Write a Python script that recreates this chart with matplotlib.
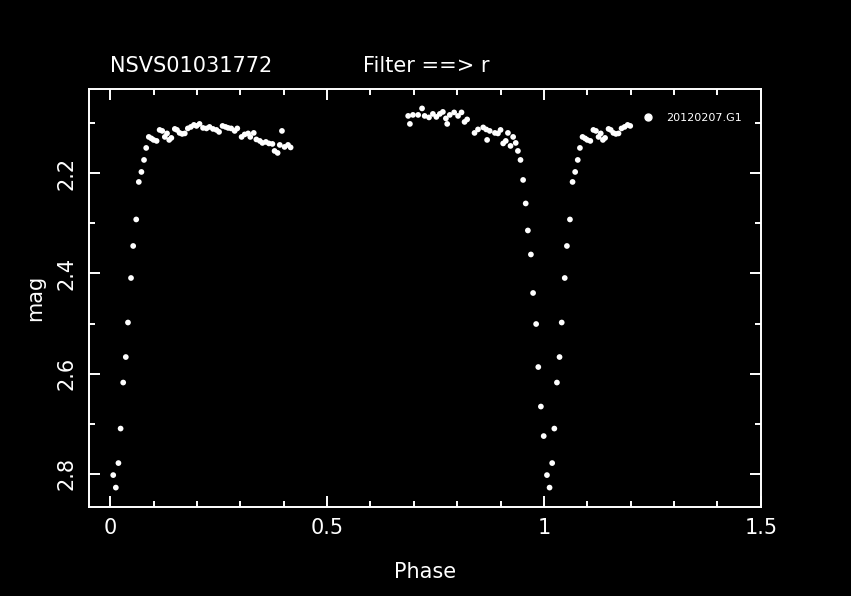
import numpy as np
import matplotlib
matplotlib.use("Agg")
import matplotlib.pyplot as plt
from matplotlib.lines import Line2D
from matplotlib.ticker import MultipleLocator

star = "NSVS01031772"
filt = "Filter ==> r"
night = "20120207.G1"

# phase / magnitude (first part, 0 - 0.42)
phase_a = [0.007, 0.013, 0.019, 0.024, 0.030, 0.036, 0.041, 0.048, 0.053, 0.060,
           0.066, 0.072, 0.078, 0.083, 0.089, 0.095, 0.100, 0.107, 0.114, 0.120,
           0.126, 0.131, 0.136, 0.141, 0.149, 0.154, 0.160, 0.166, 0.172, 0.179,
           0.186, 0.193, 0.199, 0.206, 0.214, 0.222, 0.229, 0.237, 0.245, 0.251,
           0.259, 0.266, 0.272, 0.279, 0.287, 0.293, 0.303, 0.310, 0.318, 0.323,
           0.331, 0.337, 0.345, 0.351, 0.359, 0.366, 0.374, 0.379, 0.386, 0.391,
           0.396, 0.402, 0.410, 0.416]
mag_a = [2.803, 2.828, 2.779, 2.710, 2.618, 2.567, 2.498, 2.409, 2.345, 2.292,
         2.217, 2.197, 2.173, 2.149, 2.127, 2.130, 2.133, 2.135, 2.113, 2.115,
         2.127, 2.120, 2.133, 2.129, 2.111, 2.113, 2.119, 2.121, 2.120, 2.110,
         2.107, 2.103, 2.105, 2.101, 2.109, 2.110, 2.107, 2.111, 2.113, 2.117,
         2.105, 2.107, 2.109, 2.110, 2.115, 2.110, 2.127, 2.122, 2.120, 2.127,
         2.119, 2.132, 2.135, 2.139, 2.137, 2.140, 2.141, 2.155, 2.159, 2.143,
         2.115, 2.147, 2.143, 2.148]

# second part, 0.68 - 1.0
phase_b = [0.687, 0.691, 0.698, 0.710, 0.719, 0.725, 0.735, 0.744, 0.752, 0.760,
           0.767, 0.774, 0.777, 0.783, 0.793, 0.802, 0.810, 0.817, 0.823, 0.840,
           0.848, 0.860, 0.867, 0.869, 0.875, 0.887, 0.894, 0.900, 0.906, 0.912,
           0.917, 0.923, 0.929, 0.935, 0.940, 0.946, 0.952, 0.958, 0.963, 0.970,
           0.975, 0.982, 0.987, 0.993, 0.9995]
mag_b = [2.085, 2.101, 2.083, 2.083, 2.070, 2.085, 2.088, 2.081, 2.087, 2.081,
         2.077, 2.090, 2.101, 2.083, 2.078, 2.085, 2.078, 2.097, 2.092, 2.119,
         2.112, 2.108, 2.112, 2.133, 2.115, 2.119, 2.120, 2.113, 2.140, 2.135,
         2.119, 2.145, 2.127, 2.139, 2.155, 2.173, 2.213, 2.260, 2.314, 2.362,
         2.439, 2.501, 2.587, 2.666, 2.725]

phase = np.array(phase_a + phase_b)
mag = np.array(mag_a + mag_b)
# repeat the start of the cycle after phase 1
wrap = phase < 0.2
phase_all = np.concatenate([phase, phase[wrap] + 1])
mag_all = np.concatenate([mag, mag[wrap]])

fig = plt.figure(figsize=(8.51, 5.96), dpi=100, facecolor="black")
ax = fig.add_axes([0.104, 0.150, 0.790, 0.700], facecolor="black")

ax.scatter(phase_all, mag_all, s=17, c="white", edgecolors="none")

ax.set_xlim(-0.05, 1.5)
ax.set_ylim(2.866, 2.032)

ax.xaxis.set_major_locator(MultipleLocator(0.5))
ax.xaxis.set_minor_locator(MultipleLocator(0.1))
ax.yaxis.set_major_locator(MultipleLocator(0.2))
ax.yaxis.set_minor_locator(MultipleLocator(0.1))
ax.set_xticks([0, 0.5, 1, 1.5])
ax.set_xticklabels(["0", "0.5", "1", "1.5"])

for s in ax.spines.values():
    s.set_color("white")
    s.set_linewidth(1.4)
ax.tick_params(which="both", direction="in", colors="white", top=True, right=True, width=1.4)
ax.tick_params(which="major", length=8, labelsize=15)
ax.tick_params(axis="x", which="major", pad=8)
ax.tick_params(axis="y", which="major", pad=9)
ax.tick_params(which="minor", length=4.3)
for lab in ax.get_yticklabels():
    lab.set_rotation(90)
    lab.set_va("center")

ax.set_xlabel("Phase", color="white", fontsize=15)
ax.set_ylabel("mag", color="white", fontsize=15)
ax.xaxis.set_label_coords(0.5, -0.157)
ax.xaxis.label.set_va("center")
ax.yaxis.set_label_coords(-0.0796, 0.5)
ax.yaxis.label.set_va("center")

fig.text(0.129, 0.879, star, color="white", fontsize=15, va="baseline")
fig.text(0.4266, 0.879, filt, color="white", fontsize=15, va="baseline")

handle = Line2D([], [], marker="o", ls="none", color="white", markersize=5, label=night)
leg = ax.legend(handles=[handle], loc="center left", bbox_to_anchor=(0.824, 0.932),
                frameon=False, fontsize=8, handlelength=1.0, handletextpad=1.1,
                borderpad=0, borderaxespad=0)
for t in leg.get_texts():
    t.set_color("white")

fig.savefig("out.png", dpi=100, facecolor="black")
